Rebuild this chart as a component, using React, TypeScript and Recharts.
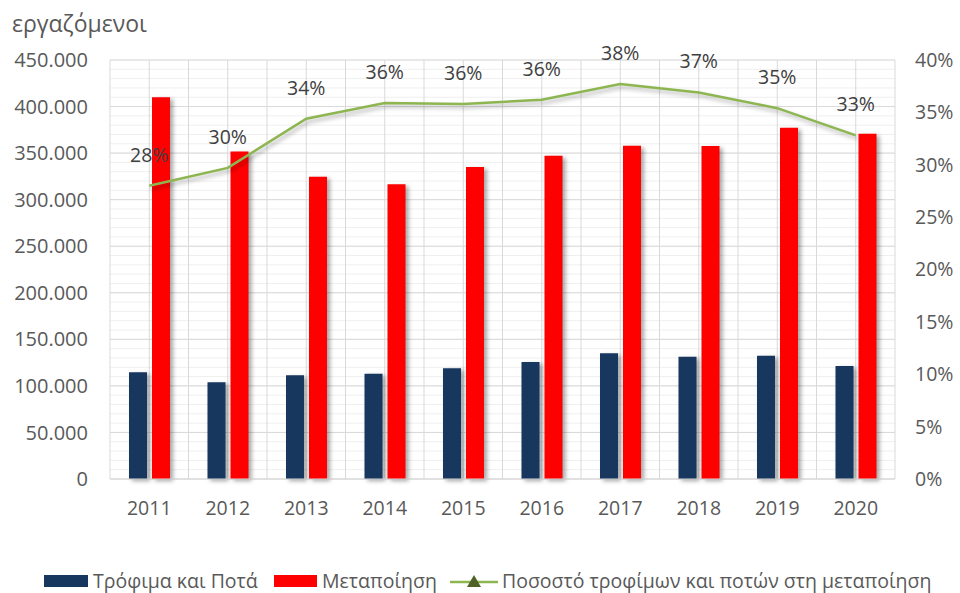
import {
  ComposedChart,
  Bar,
  Line,
  XAxis,
  YAxis,
  CartesianGrid,
  LabelList,
} from "recharts";

const years = ["2011", "2012", "2013", "2014", "2015", "2016", "2017", "2018", "2019", "2020"];
const foodDrinks = [114600, 103800, 111400, 113100, 118900, 125700, 135000, 131400, 132500, 121400];
const manufacturing = [410000, 351600, 324700, 316500, 335000, 347300, 358000, 357700, 377300, 370900];
const foodShare = [0.28, 0.297, 0.344, 0.359, 0.358, 0.362, 0.377, 0.369, 0.354, 0.328];

const leftTicks = [0, 50000, 100000, 150000, 200000, 250000, 300000, 350000, 400000, 450000];
const minorTicks = Array.from({ length: 46 }, (_, i) => i * 10000);
const rightTicks = [0, 0.05, 0.1, 0.15, 0.2, 0.25, 0.3, 0.35, 0.4];

const BLUE = "#17375e";
const RED = "#ff0000";
const GREEN = "#8db650";
const TEXT = "#595959";
const FONT = "'Open Sans', sans-serif";

const data = years.map((year, i) => ({
  year,
  food: foodDrinks[i],
  manuf: manufacturing[i],
  share: foodShare[i],
}));

const fmtThousands = (v: number) =>
  v === 0 ? "0" : `${Math.floor(v / 1000)}.${String(v % 1000).padStart(3, "0")}`;
const fmtPct = (v: number) => `${Math.round(v * 100)}%`;

const tickStyle = { fill: TEXT, fontSize: 19.5, fontFamily: FONT };

function halfCategoryLines({ offset }: any) {
  const n = years.length * 2;
  const out: number[] = [];
  for (let i = 0; i <= n; i++) out.push(offset.left + (offset.width * i) / n);
  return out;
}

// minor gridlines every 10.000, mapped through the left axis scale
function minorLines({ offset }: any) {
  return minorTicks.map((t) => offset.top + offset.height * (1 - t / 450000));
}

export default function App() {
  return (
    <div style={{ position: "absolute", left: 0, top: 0, width: 960, height: 593, background: "#fff", fontFamily: FONT }}>
      <style>{`
        .recharts-bar-rectangle { filter: drop-shadow(3px 2px 2px rgba(0,0,0,0.35)); }
        .share-line .recharts-line-curve { filter: drop-shadow(2px 3px 2px rgba(0,0,0,0.3)); }
      `}</style>
      <div style={{ position: "absolute", left: 12, top: 7, fontSize: 23, color: TEXT }}>εργαζόμενοι</div>
      <ComposedChart
        width={960}
        height={593}
        data={data}
        margin={{ top: 60, right: 0, left: 0, bottom: 74 }}
        barSize={18}
        barGap={5}
      >
        <CartesianGrid
          yAxisId="left"
          stroke="#efefef"
          vertical={false}
          horizontalCoordinatesGenerator={minorLines}
        />
        <CartesianGrid
          yAxisId="left"
          stroke="#d9d9d9"
          horizontal
          verticalCoordinatesGenerator={halfCategoryLines}
        />
        <XAxis
          dataKey="year"
          height={40}
          tick={tickStyle}
          axisLine={{ stroke: "#d9d9d9" }}
          tickLine={false}
          tickSize={0}
          tickMargin={22}
        />
        <YAxis
          yAxisId="left"
          domain={[0, 450000]}
          ticks={leftTicks}
          width={110}
          tick={{ ...tickStyle, fontSize: 20 }}
          tickFormatter={fmtThousands}
          axisLine={false}
          tickLine={false}
          tickSize={0}
          tickMargin={22}
        />
        <YAxis
          yAxisId="right"
          orientation="right"
          domain={[0, 0.4]}
          ticks={rightTicks}
          width={65}
          tick={{ ...tickStyle, textAnchor: "start" }}
          tickFormatter={fmtPct}
          axisLine={false}
          tickLine={false}
          tickSize={0}
          tickMargin={20}
        />
        <Bar yAxisId="left" dataKey="food" fill={BLUE} isAnimationActive={false} />
        <Bar yAxisId="left" dataKey="manuf" fill={RED} isAnimationActive={false} />
        <Line
          className="share-line"
          yAxisId="right"
          dataKey="share"
          stroke={GREEN}
          strokeWidth={2.5}
          dot={false}
          isAnimationActive={false}
        >
          <LabelList
            dataKey="share"
            position="top"
            offset={24}
            formatter={fmtPct}
            style={{ fill: "#404040", fontSize: 19.5, fontFamily: FONT }}
          />
        </Line>
      </ComposedChart>
      <div style={{ position: "absolute", top: 567, left: 0, width: 960, height: 28, fontSize: 19.5, color: TEXT }}>
        <div style={{ position: "absolute", left: 44, top: 8, width: 44, height: 12, background: BLUE }} />
        <div style={{ position: "absolute", left: 93, top: 0, whiteSpace: "nowrap" }}>Τρόφιμα και Ποτά</div>
        <div style={{ position: "absolute", left: 274, top: 8, width: 43, height: 12, background: RED }} />
        <div style={{ position: "absolute", left: 322, top: 0, whiteSpace: "nowrap" }}>Μεταποίηση</div>
        <svg style={{ position: "absolute", left: 450, top: 3 }} width={48} height={22}>
          <line x1={0} y1={12} x2={48} y2={12} stroke={GREEN} strokeWidth={2.5} />
          <polygon points="17,17 31,17 24,5" fill="#4f6228" />
        </svg>
        <div style={{ position: "absolute", left: 502, top: 0, whiteSpace: "nowrap" }}>
          Ποσοστό τροφίμων και ποτών στη μεταποίηση
        </div>
      </div>
    </div>
  );
}
